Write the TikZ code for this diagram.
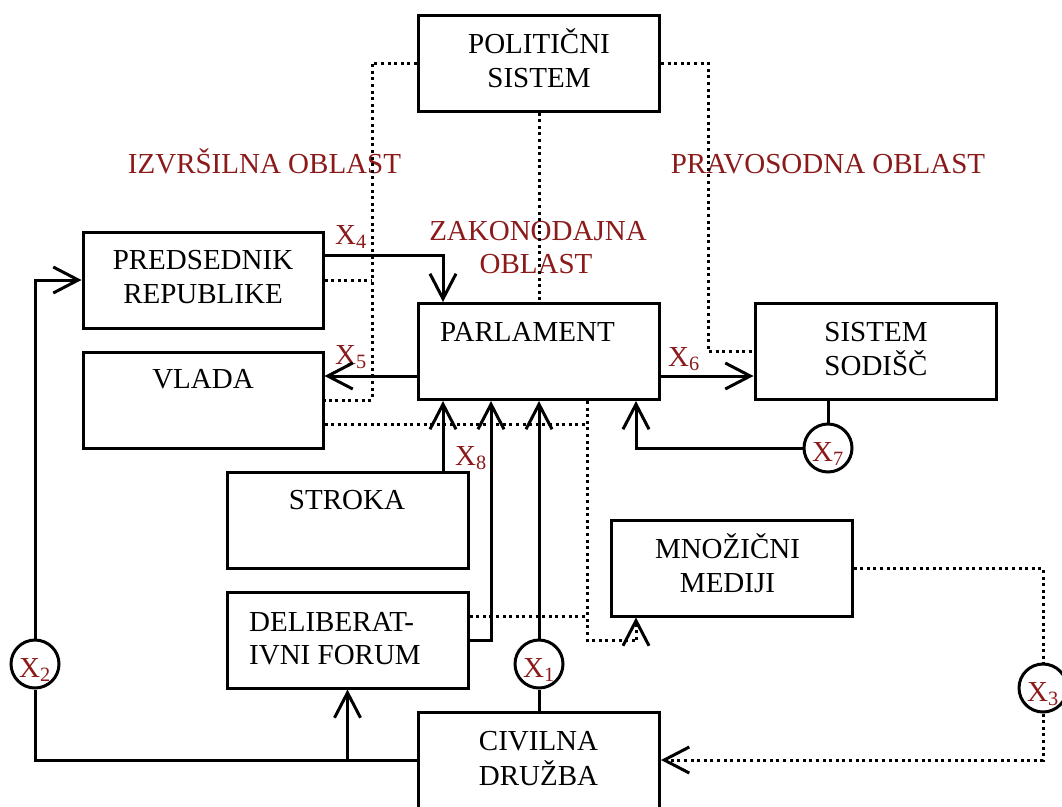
\documentclass[tikz,border=0pt]{standalone}
\usepackage{fontspec}
\setmainfont{Liberation Serif}
\usetikzlibrary{arrows.meta}
\definecolor{dred}{RGB}{139,26,26}
\begin{document}
\begin{tikzpicture}[x=1pt,y=-1pt,
  box/.style={draw, line width=3pt, minimum width=241pt, minimum height=96pt, inner sep=0pt},
  txt/.style={inner sep=0pt, anchor=base, font=\fontsize{29}{34}\selectfont},
  redtxt/.style={txt, text=dred},
  conn/.style={line width=3pt},
  arr/.style={conn, -{Straight Barb[length=25pt,width=26pt]}},
  dotline/.style={line width=3pt, dash pattern=on 3pt off 3.6pt},
  xcirc/.style={circle, draw, line width=3pt, minimum size=48pt, inner sep=0pt,
    text height=26pt, text depth=0pt, text=dred, font=\fontsize{29}{34}\selectfont}]
\useasboundingbox (0,0) rectangle (1062,806);

% boxes
\node[box] (pol)    at (539,63)     {};
\node[box, minimum width=240pt] (pred) at (203,280) {};
\node[box, minimum width=240pt] (vlada) at (203,400) {};
\node[box] (parl)   at (539,351.5)  {};
\node[box] (sod)    at (875.5,351.5){};
\node[box] (stroka) at (347.5,520)  {};
\node[box] (delib)  at (347.5,640)  {};
\node[box] (med)    at (731.5,568)  {};
\node[box] (civ)    at (539,760)    {};

% box texts
\node[txt] (tpol1) at (539,53) {POLITIČNI};
\node[txt] (tpol2) at (539,87) {SISTEM};
\node[txt] (tpred1) at (203,269) {PREDSEDNIK};
\node[txt] (tpred2) at (203,303) {REPUBLIKE};
\node[txt] (tvlada) at (203,388) {VLADA};
\node[txt] (tparl) at (527.5,341) {PARLAMENT};
\node[txt] (tsod1) at (876,341) {SISTEM};
\node[txt] (tsod2) at (876,375) {SODIŠČ};
\node[txt] (tstroka) at (347,509) {STROKA};
\node[txt, anchor=base west] (tdel1) at (249,631) {DELIBERAT-};
\node[txt, anchor=base west] (tdel2) at (249,664) {IVNI FORUM};
\node[txt] (tmed1) at (727.5,558) {MNOŽIČNI};
\node[txt] (tmed2) at (727.5,592) {MEDIJI};
\node[txt] (tciv1) at (538.5,750) {CIVILNA};
\node[txt] (tciv2) at (538.5,785) {DRUŽBA};

% branch labels
\node[redtxt] (izv) at (264.5,173) {IZVRŠILNA OBLAST};
\node[redtxt] (prav) at (828,173) {PRAVOSODNA OBLAST};
\node[redtxt] (zak1) at (538,240) {ZAKONODAJNA};
\node[redtxt] (zak2) at (536,273) {OBLAST};

% influence labels
\node[redtxt, anchor=base west] (lx4) at (335,244) {X\textsubscript{4}};
\node[redtxt, anchor=base west] (lx5) at (335,364) {X\textsubscript{5}};
\node[redtxt, anchor=base west] (lx6) at (668,366) {X\textsubscript{6}};
\node[redtxt, anchor=base west] (lx8) at (455,465) {X\textsubscript{8}};

% circles
\node[xcirc] (x1) at (539,664)  {X\textsubscript{1}};
\node[xcirc] (x2) at (35,664)   {X\textsubscript{2}};
\node[xcirc] (x3) at (1043,688) {X\textsubscript{3}};
\node[xcirc] (x7) at (828,448)  {X\textsubscript{7}};

% helper coordinates
\coordinate (lv) at (372,400);
\coordinate (rv) at (708,351.5);
\coordinate (dv) at (587,424);
\coordinate (dd) at (587,616);
\coordinate (mt) at (636,640);
\coordinate (c443) at (443,255);
\coordinate (c491) at (491,0);
\coordinate (c376) at (0,376);
\coordinate (c636) at (636,0);

% dotted connections
\draw[dotline] (pol.west) -| (lv) -- (vlada.east |- lv);
\draw[dotline] (pred.east) -- (pred.east -| lv);
\draw[dotline] (pol.east) -| (rv) -- (sod.west);
\draw[dotline] (pol.south) -- (parl.north);
\draw[dotline] (vlada.east |- dv) -- (dv);
\draw[dotline] (parl.south -| dv) |- (mt);
\draw[dotline] (delib.east |- dd) -- (dd);
\draw[dotline, -{Straight Barb[length=25pt,width=26pt]}] (mt) -- (mt |- med.south);
\draw[dotline] (med.east) -| (x3.north);
\draw[dotline, -{Straight Barb[length=25pt,width=26pt]}] (x3.south) |- (civ.east);

% solid connections
\draw[arr] (pred.east |- c443) -| (c443 |- parl.north);
\draw[arr] (parl.west |- c376) -- (vlada.east |- c376);
\draw[arr] (parl.east |- c376) -- (sod.west |- c376);
\draw[conn] (x7.north |- sod.south) -- (x7.north);
\draw[arr] (x7.west) -| (c636 |- parl.south);
\draw[arr] (stroka.north -| c443) -- (c443 |- parl.south);
\draw[arr] (delib.east) -| (c491 |- parl.south);
\draw[arr] (x1.north) -- (parl.south);
\draw[conn] (civ.north) -- (x1.south);
\draw[conn] (civ.west) -| (x2.south);
\draw[arr] (x2.north) |- (pred.west);
\draw[arr] (delib.south |- civ.west) -- (delib.south);
\end{tikzpicture}
\end{document}
